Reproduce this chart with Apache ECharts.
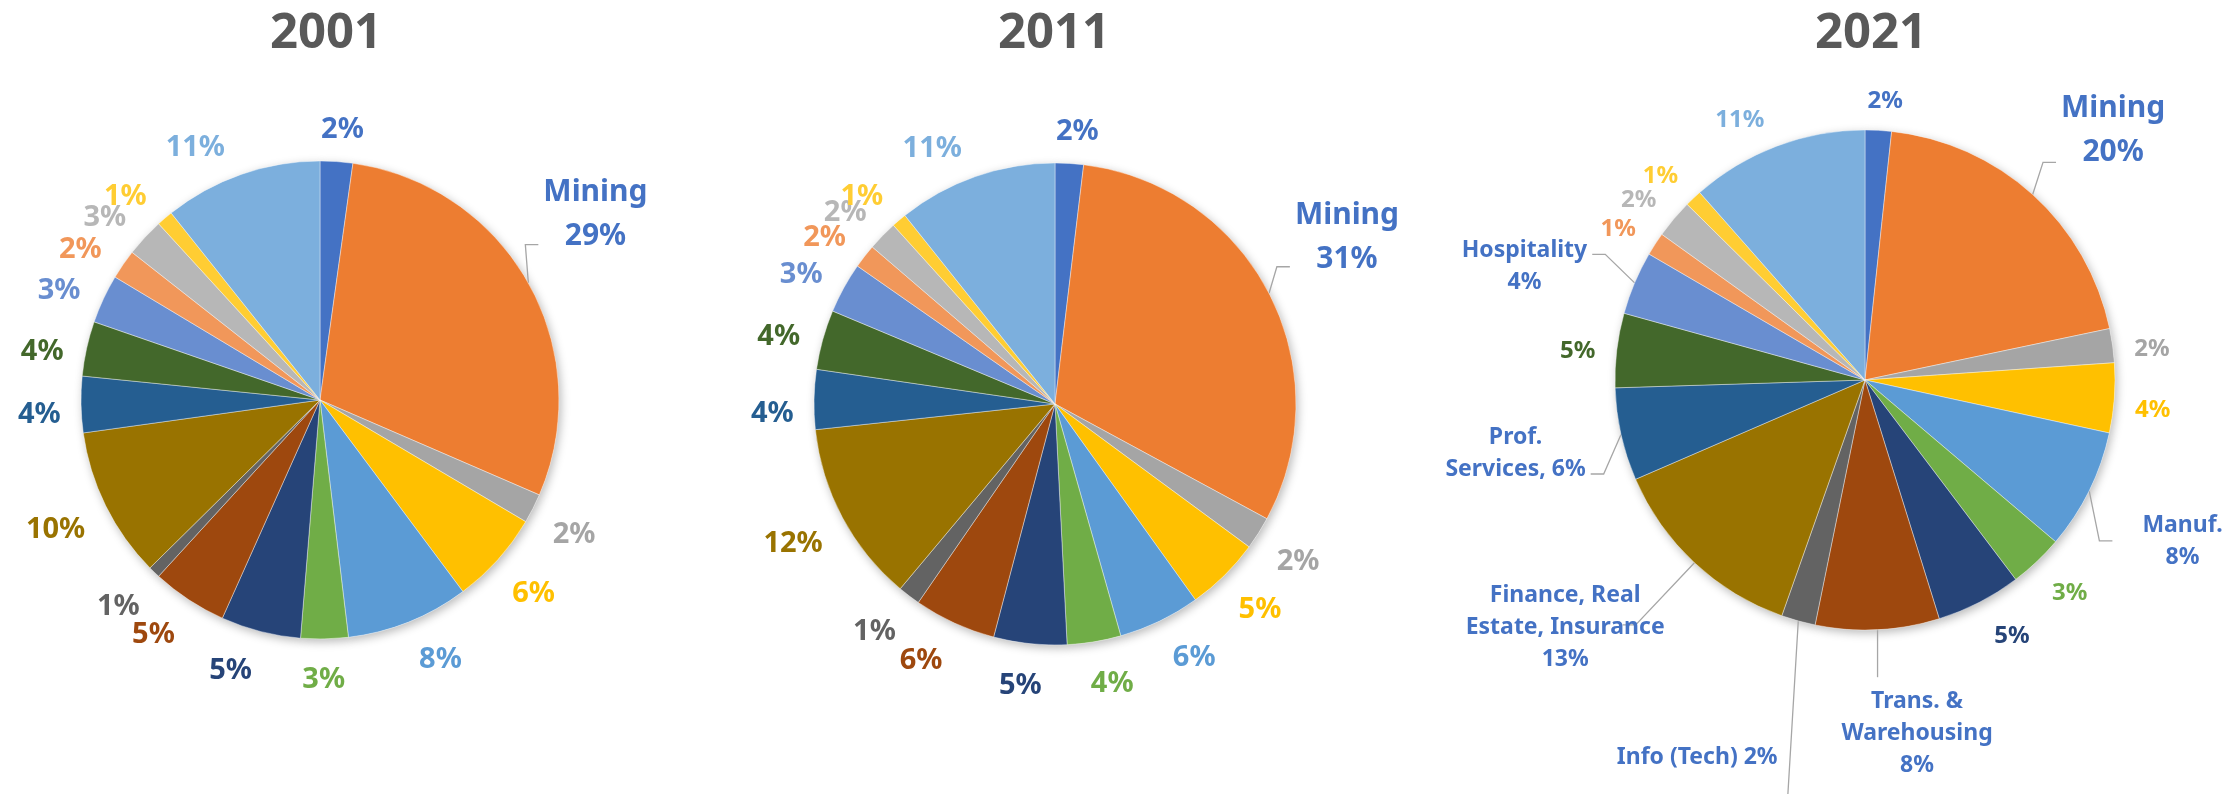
<!DOCTYPE html>
<html>
<head>
<meta charset="utf-8">
<script src="https://cdn.jsdelivr.net/npm/echarts@6/dist/echarts.min.js"></script>
<style>
  html, body { margin: 0; background: #fff; }
  #chart { width: 2229px; height: 794px; }
</style>
</head>
<body>
<div id="chart"></div>
<script>
// share of each sector, clockwise from 12 o'clock
const years = ['2001', '2011', '2021']
const share2001 = [2.2, 29.3, 2.0, 6.3, 8.3, 3.2, 5.4, 5.1, 0.8, 10.2, 3.8, 3.7, 3.3, 2.0, 2.6, 1.1, 10.7]
const share2011 = [1.9, 31.0, 2.2, 5.0, 5.5, 3.6, 4.9, 5.5, 1.5, 12.2, 4.0, 4.0, 3.4, 1.6, 2.0, 1.0, 10.7]
const share2021 = [1.7, 20.0, 2.2, 4.5, 7.8, 3.5, 5.5, 8.0, 2.2, 13.1, 6.0, 4.8, 4.1, 1.5, 2.5, 1.1, 11.5]

// label texts as printed on the chart
const labels2001 = ['2%', 'Mining\n29%', '2%', '6%', '8%', '3%', '5%', '5%', '1%', '10%', '4%', '4%', '3%', '2%', '3%', '1%', '11%']
const labels2011 = ['2%', 'Mining\n31%', '2%', '5%', '6%', '4%', '5%', '6%', '1%', '12%', '4%', '4%', '3%', '2%', '2%', '1%', '11%']
const labels2021 = ['2%', 'Mining\n20%', '2%', '4%', 'Manuf.\n8%', '3%', '5%', 'Trans. &\nWarehousing\n8%',
  'Info (Tech) 2%', 'Finance, Real\nEstate, Insurance\n13%', 'Prof.\nServices, 6%', '5%', 'Hospitality\n4%',
  '1%', '2%', '1%', '11%']

const palette = ['#4472C4', '#ED7D31', '#A5A5A5', '#FFC000', '#5B9BD5', '#70AD47', '#264478', '#9E480E',
  '#636363', '#997300', '#255E91', '#43682B', '#698ED0', '#F1975A', '#B7B7B7', '#FFCD33', '#7CAFDD']

const FONT = '"Noto Sans", "Open Sans", sans-serif'

// layout of the three pies
const pies = [
  { center: [320, 400], radius: 239, titleX: 326, pctSize: 29, pctLine: 31 },
  { center: [1055, 404], radius: 241, titleX: 1054, pctSize: 29, pctLine: 31 },
  { center: [1865, 380], radius: 250, titleX: 1871, pctSize: 24, pctLine: 27 },
]
// small angle nudges (deg) for the plain % labels, like Excel's best fit
const turns = [
  [0.7, 0, 0, -0.4, -3.5, 0.3, 4.2, 2.6, 1.1, 1, -0.9, -1.5, -1.4, -1.7, -1.8, -2.6, -6.6],
  [1.2, 0, -0.2, -0.9, -3.5, -2.4, 1.2, 3.4, 1.8, 0.9, -2.1, -0.8, -0.9, -1.1, -1.2, -2, -6],
  [1, 0, 0.9, 0.9, 0, -1.1, -3.2, 0, 0, 0, 0, -0.2, 0, -0.6, -0.9, -1.1, -4.6],
]
// labels that sit further out with a leader line
const callouts = [
  { 1: { turn: -4.6, dist: 332, ay: 30, size: 30, lh: 44 } },
  { 1: { turn: -2.3, dist: 336, ay: 29, size: 30, lh: 44 } },
  {
    1: { turn: 2.7, dist: 352, ay: 32, size: 30, lh: 44 },
    4: { turn: 0.6, dist: 356, ay: 0, pad: 30 },
    7: { turn: -5.5, dist: 357 },
    8: { turn: 8.5, dist: 413, ay: 42, pad: -3 },
    9: { turn: 7.4, dist: 389, ay: -3, pad: -42 },
    10: { turn: 0.8, dist: 357, ay: 21 },
    12: { turn: -4.4, dist: 359, ay: -12 },
  },
]

function makeLayout(values, pie, turn, calls) {
  const total = values.reduce((a, b) => a + b, 0)
  const mids = []
  let acc = 0
  values.forEach((v) => {
    mids.push(((acc + v / 2) / total) * 2 * Math.PI)
    acc += v
  })
  const cx = pie.center[0]
  const cy = pie.center[1]
  const r = pie.radius
  return function (params) {
    const i = params.dataIndex
    const c = calls[i]
    const a = mids[i] + (((c ? c.turn : turn[i]) || 0) * Math.PI) / 180
    const ux = Math.sin(a)
    const uy = -Math.cos(a)
    const w = params.labelRect.width
    const h = params.labelRect.height
    let x, y
    if (c) {
      x = cx + c.dist * ux
      y = cy + c.dist * uy
    } else {
      const d = r + 20 + (Math.abs(ux) * w + Math.abs(uy) * h) / 2
      x = cx + d * ux
      y = cy + d * uy + 5
    }
    const out = { x: x, y: y, align: 'center', verticalAlign: 'middle' }
    if (c) {
      const ex = cx + r * Math.sin(mids[i])
      const ey = cy - r * Math.cos(mids[i])
      if (Math.abs(ex - x) < w / 2) {
        const ty = ey < y ? y - h / 2 - 8 : y + h / 2 + 8
        out.labelLinePoints = [[ex, ey], [ex, ty], [ex, ty]]
      } else {
        const side = ex > x ? 1 : -1
        const tx = x + side * (w / 2 + (c.pad != null ? c.pad : 5))
        const ty = y + (c.ay || 0)
        out.labelLinePoints = [[ex, ey], [tx + side * 13, ty], [tx, ty]]
      }
    }
    return out
  }
}

const shares = [share2001, share2011, share2021]
const labels = [labels2001, labels2011, labels2021]

const series = []
shares.forEach((values, k) => {
  const pie = pies[k]
  // soft shadow under the pie
  series.push({
    type: 'pie',
    silent: true,
    z: 1,
    center: pie.center,
    radius: pie.radius,
    label: { show: false },
    labelLine: { show: false },
    itemStyle: {
      color: '#fff',
      shadowBlur: 10,
      shadowOffsetX: 2,
      shadowOffsetY: 3,
      shadowColor: 'rgba(0,0,0,0.28)',
    },
    data: values.map((v) => ({ value: v })),
  })
  series.push({
    type: 'pie',
    z: 2,
    center: pie.center,
    radius: pie.radius,
    startAngle: 90,
    clockwise: true,
    avoidLabelOverlap: false,
    itemStyle: { borderColor: '#fff', borderWidth: 0.4 },
    emphasis: { disabled: true },
    label: {
      show: true,
      position: 'outside',
      fontFamily: FONT,
      fontWeight: 'bold',
    },
    labelLine: {
      show: false,
      lineStyle: { color: '#A6A6A6', width: 1.3 },
    },
    labelLayout: makeLayout(values, pie, turns[k], callouts[k]),
    data: values.map((v, i) => {
      const c = callouts[k][i]
      const item = {
        value: v,
        name: years[k] + ' ' + i,
        itemStyle: { color: palette[i] },
        label: {
          formatter: labels[k][i],
          color: c ? '#4472C4' : palette[i],
          fontSize: c ? c.size || 23 : pie.pctSize,
          lineHeight: c ? c.lh || 32 : pie.pctLine,
        },
      }
      if (c) item.labelLine = { show: true }
      return item
    }),
  })
})

const chart = echarts.init(document.getElementById('chart'))
chart.setOption({
  backgroundColor: '#fff',
  animation: false,
  graphic: years.map((y, k) => ({
    type: 'text',
    x: pies[k].titleX,
    y: 34,
    style: {
      text: y,
      fill: '#595959',
      font: 'bold 49px ' + FONT,
      align: 'center',
      verticalAlign: 'middle',
    },
  })),
  series: series,
})
</script>
</body>
</html>
